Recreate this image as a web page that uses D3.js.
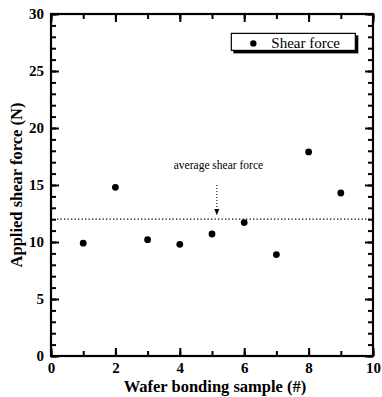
<!DOCTYPE html>
<html>
<head>
<meta charset="utf-8">
<script src="https://cdn.jsdelivr.net/npm/d3@7"></script>
<style>
  body { margin: 0; background: #fff; }
  text { font-family: "Liberation Serif", "DejaVu Serif", serif; }
</style>
</head>
<body>
<script>
// data
var samples = [1, 2, 3, 4, 5, 6, 7, 8, 9];
var shearForce = [9.9, 14.8, 10.2, 9.8, 10.7, 11.7, 8.9, 17.9, 14.3];
var averageForce = 12;
var xTicks = [0, 2, 4, 6, 8, 10];
var yTicks = [0, 5, 10, 15, 20, 25, 30];

var margin = {top: 14, left: 51, right: 9, bottom: 41},
    width = 382 - margin.left - margin.right,
    height = 397 - margin.top - margin.bottom;

var svg = d3.select("body").append("svg")
    .attr("width", 382)
    .attr("height", 397)
  .append("g")
    .attr("transform", `translate(${margin.left}, ${margin.top})`);

var x = d3.scaleLinear().domain([0, 10]).range([0, width]),
    y = d3.scaleLinear().domain([0, 30]).range([height, 0]);

var minorX = d3.range(0, 10.01, 1), minorY = d3.range(0, 30.01, 1);

// inward ticks on all four sides
var axes = [
  {axis: d3.axisBottom(x).tickValues(minorX).tickSize(-5).tickFormat(""), at: [0, height]},
  {axis: d3.axisBottom(x).tickValues(xTicks).tickSize(-8).tickPadding(6).tickFormat(d3.format("d")), at: [0, height]},
  {axis: d3.axisTop(x).tickValues(minorX).tickSize(-5).tickFormat(""), at: [0, 0]},
  {axis: d3.axisTop(x).tickValues(xTicks).tickSize(-8).tickFormat(""), at: [0, 0]},
  {axis: d3.axisLeft(y).tickValues(minorY).tickSize(-5).tickFormat(""), at: [0, 0]},
  {axis: d3.axisLeft(y).tickValues(yTicks).tickSize(-8).tickPadding(7).tickFormat(d3.format("d")), at: [0, 0]},
  {axis: d3.axisRight(y).tickValues(minorY).tickSize(-5).tickFormat(""), at: [width, 0]},
  {axis: d3.axisRight(y).tickValues(yTicks).tickSize(-8).tickFormat(""), at: [width, 0]}
];
axes.forEach(function(a) {
  var g = svg.append("g")
      .attr("transform", `translate(${a.at[0]},${a.at[1]})`)
      .call(a.axis);
  g.select(".domain").remove();
  g.selectAll(".tick line")
      .attr("stroke", "#000")
      .attr("stroke-width", 2);
  g.selectAll(".tick text")
      .attr("fill", "#000")
      .attr("font-size", 15)
      .attr("font-weight", "bold")
      .attr("font-family", "Liberation Serif, serif");
});

// frame
svg.append("rect")
    .attr("width", width)
    .attr("height", height)
    .attr("fill", "none")
    .attr("stroke", "#000")
    .attr("stroke-width", 2.2);

// average line
svg.append("line")
    .attr("x1", x(0) + 6).attr("x2", x(10))
    .attr("y1", y(averageForce)).attr("y2", y(averageForce))
    .attr("stroke", "#000")
    .attr("stroke-width", 1.3)
    .attr("stroke-dasharray", "1.3,2.2");

// annotation arrow
svg.append("line")
    .attr("x1", x(5.15)).attr("x2", x(5.15))
    .attr("y1", y(15)).attr("y2", y(12.9))
    .attr("stroke", "#000")
    .attr("stroke-width", 1)
    .attr("stroke-dasharray", "1,2");
svg.append("path")
    .attr("d", `M${x(5.15) - 2.5},${y(12.9)} L${x(5.15) + 2.5},${y(12.9)} L${x(5.15)},${y(12.35)} Z`)
    .attr("fill", "#000");
svg.append("text")
    .attr("x", x(5.2))
    .attr("y", y(16.4))
    .attr("text-anchor", "middle")
    .attr("font-size", 11.5)
    .text("average shear force");

// points
svg.append("g")
  .selectAll("circle")
  .data(samples)
  .enter()
  .append("circle")
    .attr("cx", d => x(d))
    .attr("cy", (d, i) => y(shearForce[i]))
    .attr("r", 3.4)
    .attr("fill", "#000");

// legend
var legend = svg.append("g").attr("transform", `translate(${x(5.6)}, ${y(28.3)})`);
legend.append("rect")
    .attr("x", 2).attr("y", 2)
    .attr("width", 125).attr("height", 18)
    .attr("fill", "#000");
legend.append("rect")
    .attr("width", 124).attr("height", 17)
    .attr("fill", "#fff")
    .attr("stroke", "#000")
    .attr("stroke-width", 1.2);
legend.append("circle")
    .attr("cx", 22).attr("cy", 10)
    .attr("r", 3.2)
    .attr("fill", "#000");
legend.append("text")
    .attr("x", 40).attr("y", 14.5)
    .attr("font-size", 15)
    .text("Shear force");

// axis titles
svg.append("text")
    .attr("x", width / 2 + 3)
    .attr("y", height + 36)
    .attr("text-anchor", "middle")
    .attr("font-size", 16.5)
    .attr("font-weight", "bold")
    .text("Wafer bonding sample (#)");
svg.append("text")
    .attr("transform", `translate(${-29}, ${height / 2}) rotate(-90)`)
    .attr("text-anchor", "middle")
    .attr("font-size", 16.5)
    .attr("font-weight", "bold")
    .text("Applied shear force (N)");
</script>
</body>
</html>
